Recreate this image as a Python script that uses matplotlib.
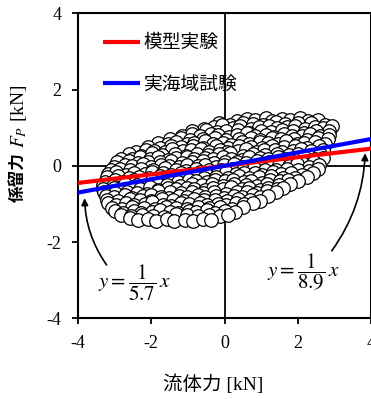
import matplotlib
matplotlib.use("Agg")
import matplotlib.pyplot as plt

plt.rcParams["mathtext.fontset"] = "stix"
plt.rcParams["axes.unicode_minus"] = False
SERIF = ["Liberation Serif", "Noto Sans CJK JP"]

# fluid force [kN] vs. mooring force [kN]
fluid_force = [
    0.35, 0.62, 0.84, 1.12, 1.31, 1.57, 1.78, 2.06, 2.29, 2.56,
    -0.15, 0.14, 0.5, 0.77, 1.05, 1.4, 1.66, 2.0, 2.35, 2.75,
    -0.56, -0.28, -0.07, 0.22, 0.43, 0.71, 0.93, 1.22, 1.44, 1.72, 1.93, 2.21, 2.46, 2.69, 2.93,
    -0.9, -0.5, -0.2, 0.05, 0.36, 0.66, 1.0, 1.27, 1.58, 1.88, 2.16, 2.5, 2.86,
    -1.16, -0.88, -0.66, -0.38, -0.17, 0.12, 0.33, 0.62, 0.83, 1.12, 1.34, 1.62, 1.83, 2.12, 2.33, 2.62, 2.84,
    -1.5, -1.2, -0.95, -0.6, -0.25, 0.03, 0.4, 0.72, 0.98, 1.3, 1.55, 1.9, 2.25, 2.55, 2.83,
    -1.82, -1.53, -1.32, -1.03, -0.82, -0.53, -0.32, -0.03, 0.18, 0.47, 0.68, 0.97, 1.18, 1.47, 1.68, 1.97, 2.18, 2.47, 2.74,
    -2.1, -1.75, -1.45, -1.2, -0.86, -0.58, -0.22, 0.1, 0.4, 0.72, 1.02, 1.3, 1.62, 1.92, 2.26, 2.58,
    -2.41, -2.13, -1.92, -1.63, -1.42, -1.13, -0.92, -0.63, -0.42, -0.13, 0.08, 0.37, 0.58, 0.87, 1.08, 1.37, 1.58, 1.87, 2.08, 2.37, 2.68,
    -2.6, -2.27, -1.97, -1.7, -1.36, -1.06, -0.75, -0.45, -0.16, 0.15, 0.5, 0.78, 1.1, 1.43, 1.75, 2.02, 2.3, 2.6,
    -2.82, -2.53, -2.32, -2.03, -1.82, -1.53, -1.32, -1.03, -0.82, -0.53, -0.32, -0.03, 0.18, 0.47, 0.68, 0.97, 1.18, 1.47, 1.68, 1.97, 2.18, 2.47, 2.69,
    -2.93, -2.62, -2.35, -2.08, -1.77, -1.45, -1.15, -0.88, -0.6, -0.3, 0.0, 0.33, 0.6, 0.9, 1.22, 1.55, 1.82, 2.12, 2.45,
    -3.01, -2.73, -2.52, -2.23, -2.02, -1.73, -1.52, -1.23, -1.02, -0.73, -0.52, -0.23, -0.02, 0.27, 0.48, 0.77, 0.98, 1.27, 1.48, 1.77, 1.98, 2.31, 2.58,
    -3.1, -2.85, -2.57, -2.28, -1.95, -1.62, -1.33, -1.05, -0.77, -0.43, -0.1, 0.2, 0.5, 0.8, 1.1, 1.4, 1.7, 2.0, 2.3, 2.55,
    -3.19, -2.97, -2.68, -2.47, -2.18, -1.97, -1.68, -1.47, -1.18, -0.97, -0.68, -0.47, -0.18, 0.03, 0.32, 0.53, 0.82, 1.03, 1.32, 1.53, 1.82, 2.12, 2.43,
    -3.22, -2.9, -2.6, -2.33, -2.05, -1.75, -1.42, -1.1, -0.83, -0.55, -0.22, 0.1, 0.4, 0.68, 0.95, 1.27, 1.6, 1.92, 2.25,
    -3.26, -2.98, -2.77, -2.48, -2.27, -1.98, -1.77, -1.48, -1.27, -0.98, -0.77, -0.48, -0.27, 0.02, 0.23, 0.52, 0.73, 1.02, 1.23, 1.52, 1.73, 2.01,
    -3.32, -3.05, -2.72, -2.4, -2.1, -1.85, -1.56, -1.22, -0.9, -0.62, -0.33, -0.05, 0.27, 0.58, 0.88, 1.15, 1.5, 1.8,
    -3.31, -3.03, -2.82, -2.53, -2.32, -2.03, -1.82, -1.53, -1.32, -1.03, -0.82, -0.53, -0.32, -0.03, 0.18, 0.47, 0.68, 0.97, 1.18, 1.42, 1.61,
    -3.3, -3.0, -2.65, -2.38, -2.12, -1.82, -1.5, -1.18, -0.88, -0.6, -0.3, 0.05, 0.35, 0.62, 0.9, 1.15, 1.4,
    -3.24, -3.02, -2.73, -2.52, -2.23, -2.02, -1.73, -1.52, -1.23, -1.02, -0.73, -0.52, -0.23, -0.02, 0.27, 0.48, 0.77, 0.98, 1.19,
    -3.22, -2.9, -2.58, -2.3, -2.02, -1.72, -1.4, -1.1, -0.82, -0.55, -0.25, 0.06, 0.38, 0.7, 0.98,
    -3.19, -2.97, -2.68, -2.47, -2.18, -1.97, -1.68, -1.47, -1.18, -0.97, -0.68, -0.47, -0.18, 0.03, 0.32, 0.53, 0.79,
    -3.08, -2.8, -2.52, -2.2, -1.9, -1.6, -1.32, -1.02, -0.72, -0.42, -0.12, 0.2, 0.5,
    -2.98, -2.77, -2.48, -2.27, -1.98, -1.77, -1.48, -1.27, -0.98, -0.77, -0.48, -0.27, 0.02, 0.29,
    -2.82, -2.55, -2.25, -1.95, -1.65, -1.32, -1.02, -0.72, -0.42, -0.12, 0.1,
    -2.58, -2.37, -2.08, -1.87, -1.58, -1.37, -1.08, -0.87, -0.58, -0.36,
]
mooring_force = [
    1.18, 1.23, 1.19, 1.26, 1.17, 1.22, 1.20, 1.25, 1.18, 1.21,
    1.12, 1.08, 1.13, 1.10, 1.07, 1.14, 1.09, 1.12, 1.11, 1.08,
    0.97, 1.03, 1.06, 0.98, 1.04, 0.96, 1.02, 1.05, 0.99, 1.01, 1.04, 0.97, 1.03, 0.99, 1.05,
    0.90, 0.93, 0.88, 0.91, 0.94, 0.87, 0.92, 0.89, 0.93, 0.90, 0.87, 0.92, 0.90,
    0.78, 0.83, 0.77, 0.84, 0.80, 0.76, 0.82, 0.85, 0.78, 0.81, 0.75, 0.83, 0.79, 0.77, 0.84, 0.78, 0.81,
    0.70, 0.73, 0.68, 0.71, 0.74, 0.67, 0.70, 0.72, 0.68, 0.73, 0.69, 0.71, 0.67, 0.72, 0.70,
    0.59, 0.57, 0.63, 0.56, 0.61, 0.64, 0.58, 0.61, 0.55, 0.63, 0.57, 0.62, 0.60, 0.56, 0.64, 0.58, 0.61, 0.63, 0.57,
    0.50, 0.47, 0.53, 0.49, 0.52, 0.46, 0.51, 0.48, 0.53, 0.50, 0.47, 0.52, 0.49, 0.51, 0.47, 0.52,
    0.37, 0.42, 0.39, 0.36, 0.43, 0.38, 0.41, 0.44, 0.37, 0.42, 0.35, 0.40, 0.43, 0.37, 0.41, 0.42, 0.36, 0.39, 0.44, 0.38, 0.41,
    0.30, 0.27, 0.33, 0.29, 0.31, 0.26, 0.32, 0.28, 0.30, 0.33, 0.27, 0.30, 0.29, 0.32, 0.28, 0.31, 0.27, 0.30,
    0.19, 0.17, 0.23, 0.18, 0.22, 0.16, 0.21, 0.24, 0.18, 0.21, 0.17, 0.23, 0.19, 0.16, 0.22, 0.20, 0.18, 0.24, 0.17, 0.21, 0.22, 0.18, 0.20,
    0.10, 0.12, 0.07, 0.11, 0.09, 0.13, 0.08, 0.10, 0.12, 0.07, 0.10, 0.11, 0.08, 0.12, 0.09, 0.10, 0.13, 0.08, 0.10,
    -0.03, 0.02, -0.01, 0.04, -0.02, 0.03, 0.00, -0.04, 0.02, -0.01, 0.03, -0.03, 0.01, 0.04, -0.02, 0.00, 0.03, -0.03, 0.02, -0.01, 0.04, -0.02, 0.01,
    -0.10, -0.08, -0.12, -0.09, -0.11, -0.07, -0.10, -0.13, -0.08, -0.10, -0.12, -0.09, -0.11, -0.07, -0.10, -0.12, -0.08, -0.10, -0.13, -0.09,
    -0.21, -0.17, -0.23, -0.18, -0.22, -0.16, -0.20, -0.24, -0.18, -0.21, -0.17, -0.23, -0.19, -0.16, -0.22, -0.20, -0.18, -0.24, -0.17, -0.21, -0.19, -0.23, -0.20,
    -0.30, -0.28, -0.33, -0.29, -0.31, -0.27, -0.32, -0.30, -0.28, -0.33, -0.29, -0.31, -0.27, -0.32, -0.30, -0.28, -0.31, -0.33, -0.29,
    -0.42, -0.37, -0.43, -0.38, -0.41, -0.36, -0.44, -0.39, -0.42, -0.37, -0.40, -0.43, -0.38, -0.41, -0.36, -0.42, -0.39, -0.44, -0.37, -0.41, -0.38, -0.40,
    -0.50, -0.52, -0.47, -0.51, -0.53, -0.48, -0.50, -0.52, -0.47, -0.51, -0.49, -0.53, -0.48, -0.50, -0.52, -0.47, -0.50, -0.49,
    -0.62, -0.57, -0.63, -0.58, -0.61, -0.56, -0.64, -0.59, -0.62, -0.57, -0.60, -0.63, -0.58, -0.61, -0.56, -0.62, -0.59, -0.64, -0.57, -0.61, -0.58,
    -0.70, -0.72, -0.68, -0.71, -0.73, -0.67, -0.70, -0.72, -0.68, -0.71, -0.69, -0.73, -0.68, -0.70, -0.72, -0.67, -0.70,
    -0.79, -0.83, -0.77, -0.84, -0.80, -0.76, -0.82, -0.85, -0.78, -0.81, -0.77, -0.83, -0.79, -0.84, -0.78, -0.81, -0.76, -0.82, -0.80,
    -0.90, -0.92, -0.88, -0.91, -0.93, -0.87, -0.90, -0.92, -0.88, -0.91, -0.89, -0.93, -0.88, -0.90, -0.92,
    -0.98, -1.03, -0.97, -1.04, -1.00, -0.96, -1.02, -1.05, -0.98, -1.01, -0.97, -1.03, -0.99, -1.04, -0.98, -1.01, -0.97,
    -1.10, -1.12, -1.08, -1.11, -1.13, -1.07, -1.10, -1.12, -1.08, -1.11, -1.09, -1.12, -1.08,
    -1.18, -1.23, -1.19, -1.24, -1.20, -1.17, -1.22, -1.25, -1.18, -1.21, -1.17, -1.23, -1.19, -1.22,
    -1.30, -1.32, -1.28, -1.31, -1.33, -1.27, -1.30, -1.32, -1.28, -1.31, -1.29,
    -1.38, -1.43, -1.39, -1.45, -1.40, -1.44, -1.41, -1.46, -1.39, -1.42,
]

# fitted lines y = x / k
fit_labels = ["模型実験", "実海域試験"]
fit_divisors = [8.9, 5.7]
fit_colors = ["#ff0000", "#0000ff"]
line_x = [-4, 4]

ticks = [-4, -2, 0, 2, 4]

fig = plt.figure(figsize=(3.71, 3.99), dpi=100)
ax = fig.add_axes([78 / 371, 80.7 / 399, 293 / 371, 305 / 399])

ax.axhline(0, color="black", lw=1.3, zorder=1)
ax.axvline(0, color="black", lw=1.3, zorder=1)

ax.scatter(fluid_force, mooring_force, s=95, facecolor="white",
           edgecolor="black", linewidths=0.9, zorder=2)

for label, k, color in zip(fit_labels, fit_divisors, fit_colors):
    ax.plot(line_x, [x / k for x in line_x], color=color, lw=3, label=label,
            zorder=3, solid_capstyle="butt")

ax.set_xlim(-4, 4)
ax.set_ylim(-4, 4)
ax.set_xticks(ticks)
ax.set_yticks(ticks)
ax.tick_params(direction="out", length=4, width=1.3, pad=8, labelsize=13)
for lab in ax.get_xticklabels() + ax.get_yticklabels():
    lab.set_fontfamily("Liberation Serif")
for sp in ax.spines.values():
    sp.set_linewidth(1.5)

leg = ax.legend(loc="upper left", bbox_to_anchor=(0.085, 0.938), frameon=False,
                prop={"family": "Noto Sans CJK JP", "size": 13.5},
                handlelength=2.0, handletextpad=0.15, labelspacing=1.1,
                borderpad=0, borderaxespad=0)

# slope annotations
ax.text(-2.45, -3.06, r"$y=\dfrac{1}{5.7}\,x$", fontsize=15, ha="center", va="center")
ax.text(2.14, -2.77, r"$y=\dfrac{1}{8.9}\,x$", fontsize=15, ha="center", va="center")
arrow = dict(arrowstyle="-|>", color="black", lw=1.2, mutation_scale=10,
             shrinkA=0, shrinkB=0)
ax.annotate("", xy=(-3.82, -0.85), xytext=(-3.22, -2.6),
            arrowprops=dict(arrow, connectionstyle="arc3,rad=-0.15"))
ax.annotate("", xy=(3.84, 0.33), xytext=(2.93, -2.23),
            arrowprops=dict(arrow, connectionstyle="arc3,rad=0.15"))

# axis labels
fig.text(213 / 371, 1 - 384 / 399, "流体力 [kN]", family=SERIF, fontsize=14,
         ha="center", va="center")
fig.text(19 / 371, 1 - 202 / 399, "係留力", family="Noto Sans CJK JP",
         weight="bold", fontsize=12, rotation=90, ha="center", va="bottom")
fig.text(19 / 371, 1 - 148 / 399, r"$F_P$ [kN]", family="Liberation Serif",
         fontsize=14, rotation=90, ha="center", va="bottom")

fig.savefig("out.png", dpi=100)
